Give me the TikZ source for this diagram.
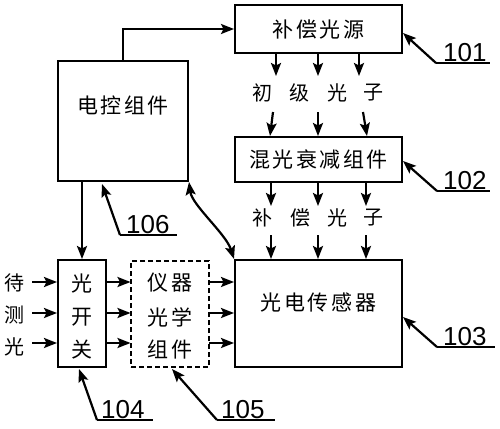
\documentclass[tikz,border=0pt]{standalone}
\usepackage{fontspec}
\setmainfont{Liberation Sans}
\newfontfamily\cjk[LetterSpace=12]{Noto Sans CJK SC}
\newfontfamily\cjkn{Noto Sans CJK SC}
\usetikzlibrary{arrows.meta}
\begin{document}
\begin{tikzpicture}[x=1pt,y=-1pt,
  box/.style={draw,line width=2pt,inner sep=0pt},
  dbox/.style={draw,line width=1.5pt,dashed,dash pattern=on 5pt off 3pt,inner sep=0pt},
  txt/.style={font=\cjk\fontsize{21}{23}\selectfont,inner sep=0pt},
  ctxt/.style={font=\cjkn\fontsize{20}{22}\selectfont,inner sep=0pt},
  num/.style={font=\fontsize{26}{28}\selectfont,inner sep=0pt,anchor=base west},
  tip/.tip={Stealth[length=13pt,width=10pt,inset=2.5pt]},
  arr/.style={line width=2.2pt,-tip},
  lead/.style={line width=2.2pt,tip-},
  uline/.style={line width=1.3pt}
]
\useasboundingbox (0,0) rectangle (500,428);
% boxes
\node[box,minimum width=167pt,minimum height=48pt] (b101) at (318.5,29) {};
\node[txt] (t101) at (318.5,29) {补偿光源};
\node[box,minimum width=167pt,minimum height=45pt] (b102) at (318.5,159.5) {};
\node[txt] (t102) at (318.5,159.5) {混光衰减组件};
\node[box,minimum width=167pt,minimum height=107pt] (b103) at (318.5,313.5) {};
\node[txt] (t103) at (318.5,302) {光电传感器};
\node[box,minimum width=130pt,minimum height=120pt] (ctrl) at (123,121) {};
\node[txt] (tctrl) at (123,106) {电控组件};
\node[box,minimum width=48pt,minimum height=107pt] (sw) at (82,313.5) {};
\node[txt] (sw1) at (82,284) {光};
\node[txt] (sw2) at (82,317) {开};
\node[txt] (sw3) at (82,350) {关};
\node[dbox,minimum width=78pt,minimum height=106pt] (opt) at (170,314) {};
\node[txt] (o1) at (170,283) {仪器};
\node[txt] (o2) at (170,317) {光学};
\node[txt] (o3) at (170,350) {组件};
% input labels
\node[ctxt] (in1) at (15,283) {待};
\node[ctxt] (in2) at (15,315) {测};
\node[ctxt] (in3) at (15,347) {光};
% photon labels
\node[ctxt] (p1) at (262,93) {初};
\node[ctxt] (p2) at (299,93) {级};
\node[ctxt] (p3) at (337,93) {光};
\node[ctxt] (p4) at (373,93) {子};
\node[ctxt] (q1) at (262,218) {补};
\node[ctxt] (q2) at (300,218) {偿};
\node[ctxt] (q3) at (337,218) {光};
\node[ctxt] (q4) at (373,218) {子};
% arrows 101 -> photons
\foreach \x in {276,318,359} \draw[arr] (\x,53) -- (\x,76);
\draw[arr] (273,112) -- (270,136);
\draw[arr] (318,112) -- (318,136);
\draw[arr] (363,112) -- (367,136);
\foreach \x in {271,318,366} \draw[arr] (\x,182) -- (\x,206);
\foreach \x in {271,318,366} \draw[arr] (\x,235) -- (\x,259);
% inputs
\foreach \y in {282,313,343} {
  \draw[arr] (32,\y) -- (57,\y);
  \draw[arr] (106,\y) -- (130.5,\y);
  \draw[arr] (209,\y) -- (234,\y);
}
% control
\draw[arr] (ctrl.north) |- (b101.west);
\draw[arr] (82,181) -- (sw.north);
\draw[line width=2.2pt,tip-tip]
  (ctrl.south east) .. controls (192,205) and (226,234) .. (b103.north west);
% leaders
\coordinate (l101) at (436,63);
\draw[lead] (403,33) -- (l101);
\draw[uline] (l101) -- (490,63);
\node[num] (n101) at (443,61) {101};
\coordinate (l102) at (437,191);
\draw[lead] (403,161) -- (l102);
\draw[uline] (l102) -- (490,191);
\node[num] (n102) at (443,189) {102};
\coordinate (l103) at (437,347);
\draw[lead] (403,317) -- (l103);
\draw[uline] (l103) -- (495,347);
\node[num] (n103) at (443,345) {103};
\coordinate (l104) at (97,420);
\draw[lead] (79,369) -- (l104);
\draw[uline] (l104) -- (153,420);
\node[num] (n104) at (101,418) {104};
\coordinate (l105) at (217,420);
\draw[lead] (172,369) -- (l105);
\draw[uline] (l105) -- (275,420);
\node[num] (n105) at (221,418) {105};
\coordinate (l106) at (120,235);
\draw[lead] (102,184) -- (l106);
\draw[uline] (l106) -- (177,235);
\node[num] (n106) at (126,233) {106};
\end{tikzpicture}
\end{document}
